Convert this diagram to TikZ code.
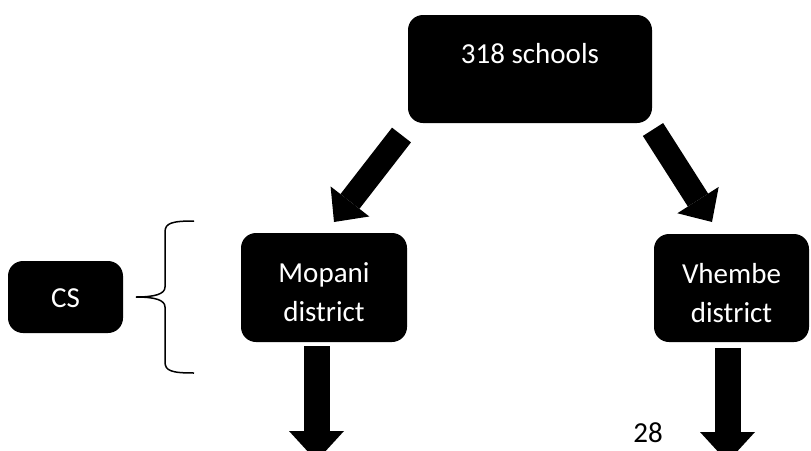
\documentclass[tikz,border=0pt]{standalone}
\usepackage{fontspec}
\setmainfont{Carlito}
\usetikzlibrary{%
  arrows.meta%
}
\tikzset{>=latex,
  blackbox/.style={fill=black,text=white,rounded corners=15pt,inner xsep=0pt,
    inner ysep=0pt,align=center,font=\fontsize{29}{39}\selectfont},
  diagarrow/.style={line width=24pt,-{Triangle[width=49pt,length=26pt,line width=0pt]}},
  downarrow/.style={line width=26pt,-{Triangle[width=55pt,length=30pt,line width=0pt]}}
}

\begin{document}
\begin{tikzpicture}[x=1pt,y=-1pt]
      \clip (0,0) rectangle (811,450);
      \node[blackbox,minimum width=244pt,text height=48pt,text depth=60pt]
      (schools) at (530,69) {318 schools};
      \node[blackbox,minimum width=166pt,text height=88pt,text depth=21pt]
      (mopani) at (324,287.5) {Mopani\\district};
      \node[blackbox,minimum width=155pt,text height=88pt,text depth=20pt]
      (vhembe) at (731.5,288) {Vhembe\\district};
      \node[blackbox,minimum width=115pt,text height=46pt,text depth=26pt]
      (cs) at (65.5,297) {CS};
      \node[anchor=base,font=\fontsize{29}{34}\selectfont] (page) at (648,442) {28};

      % arrows from the schools box
      \coordinate (schoolsL) at (401.5,135);
      \coordinate (schoolsR) at (653,129.5);
      \coordinate (mopaniT) at (334,222);
      \coordinate (vhembeT) at (712,222);
      \draw[diagarrow] (schoolsL) -- (mopaniT);
      \draw[diagarrow] (schoolsR) -- (vhembeT);

      % arrows leaving the districts
      \coordinate (mopaniB) at (316.5,346);
      \coordinate (mopaniE) at (316.5,461);
      \coordinate (vhembeB) at (727.5,348);
      \coordinate (vhembeE) at (727.5,462);
      \draw[downarrow] (mopaniB) -- (mopaniE);
      \draw[downarrow] (vhembeB) -- (vhembeE);

      % brace next to CS
      \draw[line width=1.5pt] (194,221) .. controls (172,221) and (165,223) ..
      (165,232) -- (165,287) .. controls (165,294) and (155,297) .. (136,297)
      .. controls (155,297) and (165,300) .. (165,307) -- (165,362)
      .. controls (165,371) and (172,373) .. (194,373);
    \end{tikzpicture}
\end{document}
